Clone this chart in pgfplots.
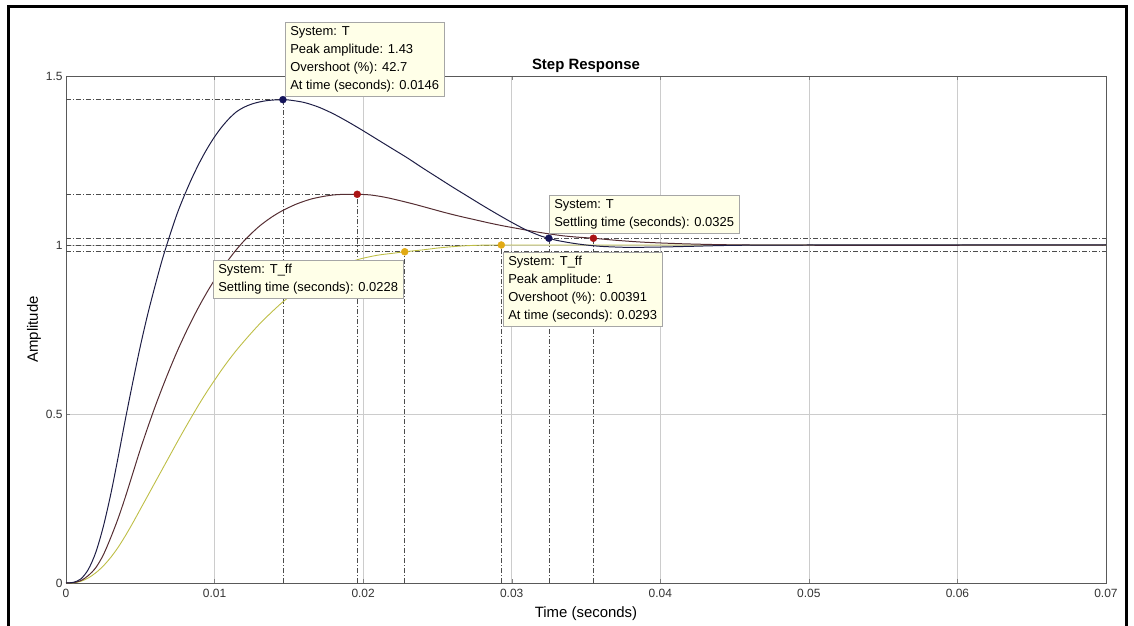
\documentclass[border=0pt]{standalone}
\usepackage{pgfplots}
\pgfplotsset{compat=1.18}
\usepackage{fontspec}
\setmainfont{Liberation Sans}
\definecolor{cT}{RGB}{30,30,70}
\definecolor{cM}{RGB}{85,45,50}
\definecolor{cF}{RGB}{190,190,70}
\definecolor{pT}{RGB}{20,20,90}
\definecolor{pM}{RGB}{170,20,20}
\definecolor{pF}{RGB}{225,170,20}
\definecolor{boxfill}{RGB}{255,255,232}
\tikzset{dd/.style={line width=0.6pt, dash pattern=on 5pt off 2pt on 1pt off 2pt},
  tip/.style={draw=gray!70, fill=boxfill, line width=0.6pt, anchor=north west, align=left,
    font=\fontsize{13}{18}\selectfont, inner xsep=5bp, inner ysep=4bp}}
\begin{document}
\begin{tikzpicture}
\useasboundingbox (0,0) rectangle (1134bp,626bp);
\draw[line width=3bp] (8bp,0bp) -- (8bp,619bp) -- (1126bp,619bp) -- (1126bp,0bp);
\begin{axis}[
  at={(66bp,43bp)}, anchor=south west,
  scale only axis, width=1040bp, height=507bp,
  xmin=0, xmax=0.07, ymin=0, ymax=1.5,
  scaled x ticks=false, scaled y ticks=false,
  xtick={0,0.01,0.02,0.03,0.04,0.05,0.06,0.07},
  xticklabels={0,0.01,0.02,0.03,0.04,0.05,0.06,0.07},
  ytick={0,0.5,1,1.5},
  yticklabels={0,0.5,1,1.5},
  tick label style={font=\fontsize{12}{14}\selectfont, text=black!80},
  xticklabel style={yshift=-3bp},
  tick align=inside, major tick length=4bp,
  grid=major, major grid style={gray!40, line width=0.5pt},
  axis line style={gray!70!black, line width=0.6pt},
  xlabel={Time (seconds)}, ylabel={Amplitude},
  xlabel style={font=\fontsize{15}{17}\selectfont, yshift=-2bp},
  ylabel style={font=\fontsize{15}{17}\selectfont, yshift=-2bp},
  title={\textbf{Step Response}},
  title style={font=\fontsize{15}{17}\selectfont, yshift=-6bp},
  clip=false,
]
% reference lines
\addplot[dd, gray!60!black] coordinates {(0,1.43)(0.0146,1.43)};
\addplot[dd, gray!60!black] coordinates {(0,1.15)(0.0196,1.15)};
\addplot[dd, gray!60!black] coordinates {(0,1.02)(0.07,1.02)};
\addplot[dd, gray!60!black] coordinates {(0,0.98)(0.07,0.98)};
\addplot[dd, gray!60!black] coordinates {(0,1.0)(0.0293,1.0)};
\addplot[dd, gray!60!black] coordinates {(0.0146,0)(0.0146,1.43)};
\addplot[dd, gray!60!black] coordinates {(0.0196,0)(0.0196,1.15)};
\addplot[dd, gray!60!black] coordinates {(0.0228,0)(0.0228,0.98)};
\addplot[dd, gray!60!black] coordinates {(0.0293,0)(0.0293,1.0)};
\addplot[dd, gray!60!black] coordinates {(0.0325,0)(0.0325,1.02)};
\addplot[dd, gray!60!black] coordinates {(0.0355,0)(0.0355,1.02)};
% T_ff
\addplot[cF, line width=0.9pt, smooth] coordinates {
(0,0)(0.0005,0.0005)(0.001,0.005)(0.0015,0.015)(0.002,0.03)(0.0025,0.05)(0.003,0.075)(0.0035,0.105)(0.004,0.14)(0.0045,0.178)(0.005,0.218)(0.0055,0.258)(0.006,0.298)(0.0065,0.338)(0.007,0.378)(0.0075,0.418)(0.008,0.457)(0.0085,0.495)(0.009,0.532)(0.0095,0.567)(0.010,0.6)(0.0105,0.632)(0.011,0.662)(0.0115,0.69)(0.012,0.716)(0.0125,0.741)(0.013,0.765)(0.0135,0.787)(0.014,0.808)(0.0145,0.828)(0.015,0.846)(0.0155,0.863)(0.016,0.879)(0.0165,0.893)(0.017,0.906)(0.0175,0.918)(0.018,0.929)(0.0185,0.939)(0.019,0.948)(0.0195,0.955)(0.020,0.961)(0.021,0.97)(0.022,0.9755)(0.0228,0.98)(0.024,0.9855)(0.025,0.991)(0.026,0.995)(0.027,0.998)(0.028,0.9995)(0.0293,1.0)(0.033,1.0)(0.05,1.0)(0.07,1.0)};
% middle
\addplot[cM, line width=1pt, smooth] coordinates {
(0,0)(0.0005,0.001)(0.001,0.007)(0.0015,0.022)(0.002,0.045)(0.0025,0.082)(0.003,0.133)(0.0035,0.19)(0.004,0.255)(0.0045,0.325)(0.005,0.395)(0.0055,0.46)(0.006,0.522)(0.0065,0.58)(0.007,0.635)(0.0075,0.687)(0.008,0.735)(0.0085,0.78)(0.009,0.822)(0.0095,0.861)(0.010,0.897)(0.0105,0.93)(0.011,0.96)(0.0115,0.988)(0.012,1.013)(0.0125,1.035)(0.013,1.055)(0.0135,1.072)(0.014,1.087)(0.0145,1.1)(0.015,1.111)(0.0155,1.121)(0.016,1.129)(0.0165,1.136)(0.017,1.141)(0.0175,1.145)(0.018,1.148)(0.0185,1.1495)(0.019,1.15)(0.0196,1.15)(0.0205,1.148)(0.0215,1.141)(0.0225,1.131)(0.0235,1.12)(0.0245,1.108)(0.0255,1.096)(0.0265,1.085)(0.0275,1.075)(0.0285,1.065)(0.0295,1.056)(0.0305,1.048)(0.0315,1.04)(0.0325,1.033)(0.0335,1.027)(0.0345,1.023)(0.0355,1.02)(0.037,1.014)(0.039,1.008)(0.042,1.003)(0.046,1.0)(0.055,0.999)(0.07,1.0)};
% T
\addplot[cT, line width=1pt, smooth] coordinates {
(0,0)(0.0005,0.002)(0.001,0.012)(0.0015,0.04)(0.002,0.09)(0.0025,0.165)(0.003,0.26)(0.0035,0.37)(0.004,0.485)(0.0045,0.595)(0.005,0.70)(0.0055,0.795)(0.006,0.88)(0.0065,0.96)(0.007,1.03)(0.0075,1.095)(0.008,1.15)(0.0085,1.2)(0.009,1.245)(0.0095,1.285)(0.010,1.32)(0.0105,1.35)(0.011,1.375)(0.0115,1.395)(0.012,1.408)(0.0125,1.417)(0.013,1.423)(0.0135,1.427)(0.014,1.429)(0.0146,1.43)(0.015,1.429)(0.016,1.422)(0.017,1.408)(0.018,1.388)(0.019,1.364)(0.020,1.338)(0.021,1.311)(0.022,1.284)(0.023,1.257)(0.024,1.228)(0.025,1.2)(0.026,1.172)(0.027,1.145)(0.028,1.118)(0.029,1.092)(0.030,1.067)(0.031,1.044)(0.032,1.026)(0.0325,1.02)(0.033,1.014)(0.034,1.006)(0.035,1.0)(0.036,0.996)(0.037,0.994)(0.038,0.993)(0.040,0.994)(0.042,0.996)(0.045,0.999)(0.05,1.0)(0.07,1.0)};
% data tip markers
\addplot[only marks, mark=*, mark size=3.5bp, pT] coordinates {(0.0146,1.43)(0.0325,1.02)};
\addplot[only marks, mark=*, mark size=3.5bp, pM] coordinates {(0.0196,1.15)(0.0355,1.02)};
\addplot[only marks, mark=*, mark size=3.5bp, pF] coordinates {(0.0228,0.98)(0.0293,1.0)};
\end{axis}
% data tips
\node[tip] at (285bp,604bp) {System: T\\Peak amplitude: 1.43\\Overshoot (\%): 42.7\\At time (seconds): 0.0146};
\node[tip] at (549bp,431bp) {System: T\\Settling time (seconds): 0.0325};
\node[tip] at (213bp,366bp) {System: T\_ff\\Settling time (seconds): 0.0228};
\node[tip] at (503bp,374bp) {System: T\_ff\\Peak amplitude: 1\\Overshoot (\%): 0.00391\\At time (seconds): 0.0293};
\end{tikzpicture}
\end{document}
